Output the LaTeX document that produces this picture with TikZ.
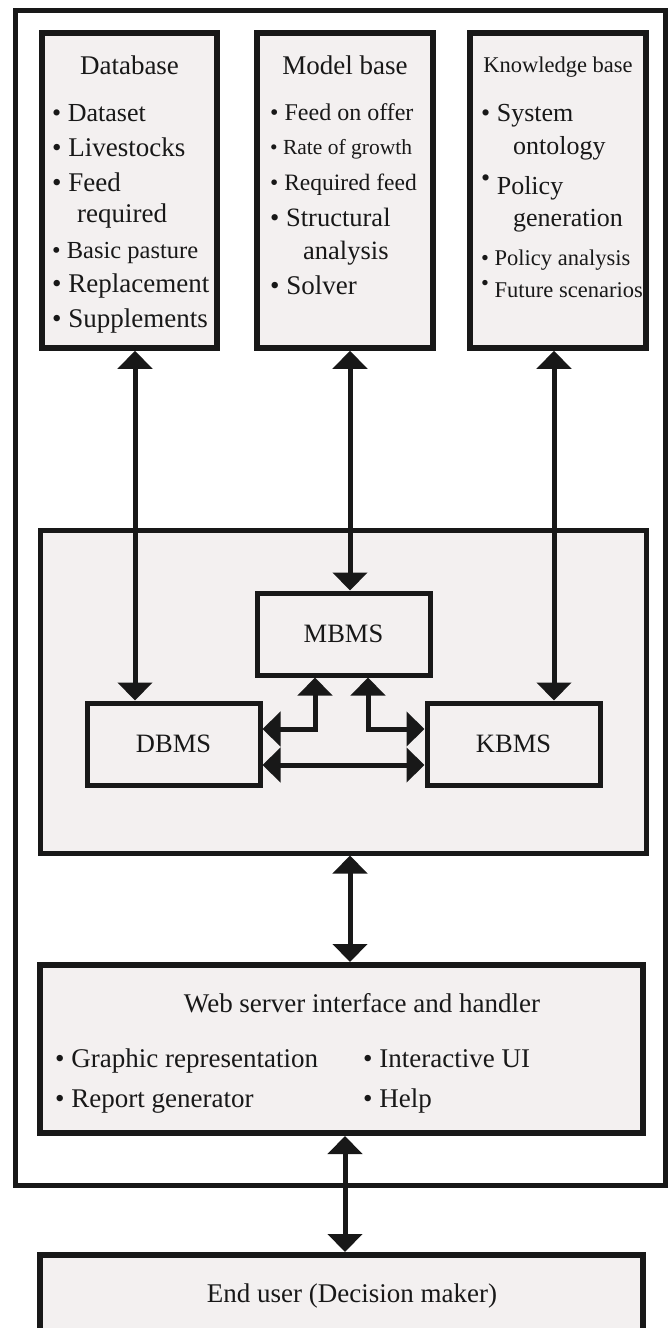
\documentclass[tikz,border=0pt]{standalone}
\usepackage{fontspec}
\setmainfont{Liberation Serif}
\usetikzlibrary{arrows.meta}
\definecolor{boxfill}{RGB}{243,240,240}
\definecolor{ink}{RGB}{24,24,24}
\newcommand{\fsz}[1]{\fontsize{#1}{#1}\selectfont}
\newcommand{\upbul}{\raisebox{0.3em}{\textbullet}}

\begin{document}
\begin{tikzpicture}[x=1pt,y=-1pt,every node/.style={inner sep=0pt,text=ink}]
\tikzstyle{box}=[draw=ink,line width=5.5pt,fill=boxfill]
\tikzstyle{item}=[anchor=base west]
\tikzstyle{title}=[anchor=base]
\tikzstyle{arrow}=[draw=ink,line width=5pt,{Triangle[width=34pt,length=18pt]}-{Triangle[width=34pt,length=18pt]}]
\useasboundingbox (0,0) rectangle (668,1328);
\clip (0,0) rectangle (668,1328);

\node[box,fill=white,line width=5pt,minimum width=650pt,minimum height=1175pt](frame) at (340,597.5){};

% the three bases
\node[box,minimum width=175pt,minimum height=315pt](db) at (129.5,190.5){};
\node[box,minimum width=176pt,minimum height=315pt](mb) at (345,190.5){};
\node[box,minimum width=176pt,minimum height=315pt](kb) at (558,190.5){};

\node[title](d0) at (129.5,74){\fsz{27}Database};
\node[item](d1) at (52,121){\fsz{26}\textbullet\ Dataset};
\node[item](d2) at (52,156){\fsz{27}\textbullet\ Livestocks};
\node[item](d3) at (52,191){\fsz{27}\textbullet\ Feed};
\node[item](d4) at (77,222){\fsz{27}required};
\node[item](d5) at (52,258){\fsz{24.5}\textbullet\ Basic pasture};
\node[item](d6) at (52,292){\fsz{27}\textbullet\ Replacement};
\node[item](d7) at (52,327){\fsz{27}\textbullet\ Supplements};

\node[title](m0) at (345,74){\fsz{27}Model base};
\node[item](m1) at (270,120){\fsz{24}\textbullet\ Feed on offer};
\node[item](m2) at (270,154){\fsz{21.5}\textbullet\ Rate of growth};
\node[item](m3) at (270,190){\fsz{23.5}\textbullet\ Required feed};
\node[item](m4) at (270,226){\fsz{26.5}\textbullet\ Structural};
\node[item](m5) at (303,259){\fsz{26.5}analysis};
\node[item](m6) at (270,294){\fsz{27}\textbullet\ Solver};

\node[title](k0) at (558,72){\fsz{22.5}Knowledge base};
\node[item](k1) at (481,121){\fsz{26}\textbullet\ System};
\node[item](k2) at (513,154){\fsz{26}ontology};
\node[item](k3) at (481,194){\fsz{26}\upbul\ Policy};
\node[item](k4) at (513,226){\fsz{26}generation};
\node[item](k5) at (481,265){\fsz{22.5}\textbullet\ Policy analysis};
\node[item](k6) at (481,297){\fsz{22.5}\upbul\ Future scenarios};

% management systems
\node[box,line width=5pt,minimum width=606pt,minimum height=323pt](core) at (343,691.5){};
\node[box,line width=5pt,minimum width=173pt,minimum height=82pt](mbms) at (343.5,634){\fsz{26.5}MBMS};
\node[box,line width=5pt,minimum width=173pt,minimum height=82pt](dbms) at (173.5,744){\fsz{26.5}DBMS};
\node[box,line width=5pt,minimum width=173pt,minimum height=82pt](kbms) at (513.5,744){\fsz{26.5}KBMS};

% interface and user
\node[box,line width=6pt,minimum width=603pt,minimum height=168pt](web) at (341.5,1049){};
\node[title](w0) at (362,1012){\fsz{27}Web server interface and handler};
\node[item](w1) at (55,1067){\fsz{27}\textbullet\ Graphic representation};
\node[item](w2) at (55,1107){\fsz{27}\textbullet\ Report generator};
\node[item](w3) at (363,1067){\fsz{27}\textbullet\ Interactive UI};
\node[item](w4) at (363,1107){\fsz{27}\textbullet\ Help};

\node[box,line width=6pt,minimum width=603pt,minimum height=90pt](user) at (341.5,1300){};
\node[title](u0) at (352,1302){\fsz{27}End user (Decision maker)};

\path[arrow]([xshift=5.5pt]db.south)--([xshift=-38.5pt]dbms.north);
\path[arrow]([xshift=5pt]mb.south)--([xshift=6.5pt]mbms.north);
\path[arrow]([xshift=-4pt]kb.south)--([xshift=40.5pt]kbms.north);

\path[arrow]([yshift=15pt]dbms.east)-|([xshift=-28.5pt]mbms.south);
\path[arrow]([xshift=24.5pt]mbms.south)|-([yshift=15pt]kbms.west);
\path[arrow]([yshift=-21pt]dbms.east)--([yshift=-21pt]kbms.west);

\path[arrow]([xshift=7pt]core.south)--([xshift=8.5pt]web.north);
\path[arrow]([xshift=3.5pt]web.south)--([xshift=3.5pt]user.north);
\end{tikzpicture}
\end{document}
